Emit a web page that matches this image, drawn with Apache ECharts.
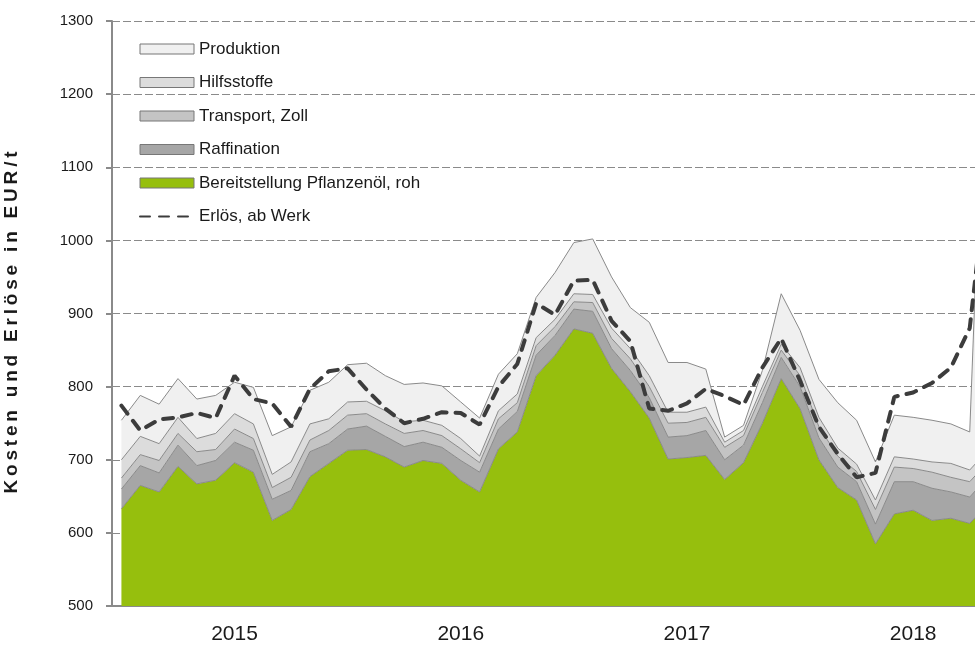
<!DOCTYPE html>
<html>
<head>
<meta charset="utf-8">
<script src="https://cdn.jsdelivr.net/npm/echarts@6/dist/echarts.min.js"></script>
<style>
  html, body { margin: 0; padding: 0; background: #fff; }
  #chart { width: 975px; height: 646px; }
</style>
</head>
<body>
<div id="chart"></div>
<script>
// Monate Jul 2014 - Mai 2018
var months = [
  '2014-07','2014-08','2014-09','2014-10','2014-11','2014-12',
  '2015-01','2015-02','2015-03','2015-04','2015-05','2015-06','2015-07','2015-08','2015-09','2015-10','2015-11','2015-12',
  '2016-01','2016-02','2016-03','2016-04','2016-05','2016-06','2016-07','2016-08','2016-09','2016-10','2016-11','2016-12',
  '2017-01','2017-02','2017-03','2017-04','2017-05','2017-06','2017-07','2017-08','2017-09','2017-10','2017-11','2017-12',
  '2018-01','2018-02','2018-03','2018-04','2018-05'
];

// Kostenanteile in EUR/t (gestapelt)
var pflanzenoel = [633,665,656,691,667,672,696,683,617,632,677,695,713,714,704,690,699,695,672,656,715,738,815,843,879,873,825,793,757,701,703,706,673,696,750,811,770,700,662,645,585,626,631,617,620,613,640];
var raffination = [27,27,26,29,25,27,28,30,29,26,34,27,29,32,28,28,25,22,27,27,27,28,28,27,27,30,27,29,28,30,30,34,27,24,28,29,30,30,28,25,27,44,39,44,36,36,38];
var transport   = [15,15,17,16,19,15,18,16,16,18,16,18,19,17,17,18,16,16,16,13,14,12,13,12,10,12,14,16,15,19,18,18,17,13,14,10,15,15,15,14,20,20,18,22,20,21,20];
var hilfsstoffe = [25,25,23,22,18,22,21,20,18,21,22,16,18,17,18,16,14,14,14,9,11,12,11,10,11,11,14,14,15,15,14,14,7,7,8,8,11,13,11,10,13,14,13,14,19,16,16];
var produktion  = [54,56,54,53,54,52,43,50,53,48,46,50,51,52,48,51,51,54,50,52,50,55,55,64,70,76,70,56,73,68,68,52,7,7,22,69,51,52,62,60,52,57,57,57,54,52,700];
// Erlös ab Werk
var erloes = [774,740,755,758,764,757,815,783,777,745,797,821,825,796,770,750,756,765,764,748,800,831,914,898,945,946,890,862,770,767,777,797,787,775,826,866,808,745,708,676,682,786,792,805,826,880,1110];

var FONT = 'Liberation Sans';
var BORDER = '#8a8a8a';
var yName = 'Kosten und Erlöse in EUR/t'.split('').join('\u2009');

function area(name, data, color) {
  return {
    name: name,
    type: 'line',
    stack: 'kosten',
    data: data,
    symbol: 'none',
    lineStyle: { color: BORDER, width: 1 },
    itemStyle: { color: color },
    areaStyle: { color: color, opacity: 1 },
    emphasis: { disabled: true }
  };
}

function rectItem(name, color) {
  return { name: name, icon: 'rect', itemStyle: { color: color, borderColor: '#777', borderWidth: 1 } };
}

var chart = echarts.init(document.getElementById('chart'));
chart.setOption({
  animation: false,
  grid: { left: 112, top: 21, bottom: 40, width: 886, outerBoundsMode: 'none', containLabel: false },
  legend: {
    orient: 'vertical',
    left: 134,
    top: 35.5,
    itemWidth: 54,
    itemHeight: 10,
    itemGap: 16.5,
    textStyle: { fontFamily: FONT, fontSize: 17, color: '#1a1a1a' },
    data: [
      rectItem('Produktion', '#f0f0f0'),
      rectItem('Hilfsstoffe', '#dcdcdc'),
      rectItem('Transport, Zoll', '#c4c4c4'),
      rectItem('Raffination', '#a6a6a6'),
      rectItem('Bereitstellung Pflanzenöl, roh', '#96bf0d'),
      { name: 'Erlös, ab Werk', itemStyle: { opacity: 0 } }
    ]
  },
  xAxis: {
    type: 'category',
    data: months,
    boundaryGap: true,
    axisLine: { lineStyle: { color: '#8a8a8a', width: 2 } },
    axisTick: { interval: 0, length: 6, lineStyle: { color: '#8a8a8a', width: 2 } },
    axisLabel: {
      interval: 0,
      margin: 18,
      fontFamily: FONT,
      fontSize: 21,
      color: '#1a1a1a',
      formatter: function (v) { return v.slice(5) === '01' ? v.slice(0, 4) : ''; }
    },
    splitLine: { show: false }
  },
  yAxis: {
    type: 'value',
    min: 500,
    max: 1300,
    interval: 100,
    name: yName,
    nameLocation: 'middle',
    nameGap: 91,
    nameTextStyle: { fontFamily: FONT, fontSize: 19, fontWeight: 'bold', color: '#1a1a1a', padding: [0, 18, 0, 0] },
    axisLine: { show: true, lineStyle: { color: '#8a8a8a', width: 2 } },
    axisTick: { show: true, length: 6, lineStyle: { color: '#8a8a8a', width: 2 } },
    axisLabel: { margin: 19, fontFamily: FONT, fontSize: 15, color: '#1a1a1a', formatter: function (v) { return String(v); } },
    splitLine: { show: true, lineStyle: { color: '#8a8a8a', type: [8, 3], width: 1 } }
  },
  series: [
    area('Bereitstellung Pflanzenöl, roh', pflanzenoel, '#96bf0d'),
    area('Raffination', raffination, '#a6a6a6'),
    area('Transport, Zoll', transport, '#c4c4c4'),
    area('Hilfsstoffe', hilfsstoffe, '#dcdcdc'),
    area('Produktion', produktion, '#f0f0f0'),
    {
      name: 'Erlös, ab Werk',
      type: 'line',
      data: erloes,
      symbol: 'none',
      z: 5,
      itemStyle: { color: '#3c3c3c' },
      lineStyle: { color: '#3c3c3c', width: 4, type: [10, 9], cap: 'round' },
      emphasis: { disabled: true }
    }
  ]
});
</script>
</body>
</html>
